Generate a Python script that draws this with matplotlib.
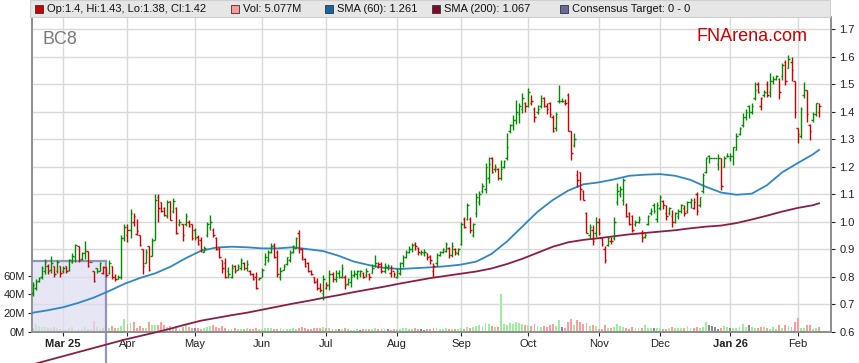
"""
BC8 daily price bars with SMA(60), SMA(200), volume and consensus target box.
"""
import numpy as np
import pandas as pd
import matplotlib
matplotlib.use('Agg')
import matplotlib.pyplot as plt
from matplotlib.collections import LineCollection
from matplotlib.patches import Rectangle

# daily bars, one per weekday from 17 Feb 2025
first_day = '2025-02-17'

opens = [
    .74, .76, .785, .80, .82, .84, .825, .84, .82, .84,  # Feb
    .82, .84, .825, .855, .87, .91, .865, .885, .895, .855, .82, .83, .82, .815, .835, .815, .84, .80, .79, .80, .94,  # Mar
    .95, .97, 1.0, .955, .95, .90, .85, .91, .875, .935, 1.09, 1.07, 1.05, 1.02, 1.075, 1.04, 1.05, .99, .99, .99, 1.0, .99,  # Apr
    .97, .945, .935, .89, .95, .98, .97, .94, .905, .86, .85, .82, .80, .84, .825, .83, .85, .83, .82, .81, .80, .79,  # May
    .80, .845, .86, .89, .915, .89, .80, .825, .845, .86, .89, .905, .96, .90, .865, .85, .82, .80, .785, .76, .74,  # Jun
    .76, .77, .81, .79, .815, .80, .80, .775, .78, .805, .81, .81, .815, .805, .81, .815, .84, .835, .845, .82, .835, .815, .82,  # Jul
    .80, .815, .85, .87, .89, .90, .92, .905, .885, .885, .885, .875, .82, .85, .88, .89, .895, .905, .88, .90, .885,  # Aug
    .92, 1.01, 1.01, 1.01, .95, 1.03, 1.07, 1.11, 1.12, 1.16, 1.23, 1.19, 1.19, 1.16, 1.20, 1.23, 1.33, 1.35, 1.37, 1.39, 1.41, 1.43,  # Sep
    1.42, 1.43, 1.41, 1.40, 1.42, 1.45, 1.42, 1.43, 1.38, 1.34, 1.44, 1.44, 1.43, 1.46, 1.33, 1.28, 1.17, 1.18, 1.11, 1.03, .95, .97, .96,  # Oct
    1.0, .94, .90, .915, .93, .94, 1.07, 1.10, 1.08, 1.06, 1.03, 1.02, .99, 1.0, .96, .945, .99, 1.03, 1.06, 1.01,  # Nov
    1.05, 1.075, 1.03, 1.03, 1.02, 1.0, 1.02, 1.04, 1.05, 1.04, 1.07, 1.05, 1.10, 1.06, 1.11, 1.18, 1.24, 1.23, 1.23, 1.21, 1.23, 1.20, 1.24,  # Dec
    1.23, 1.24, 1.26, 1.32, 1.35, 1.38, 1.42, 1.40, 1.45, 1.50, 1.42, 1.46, 1.50, 1.47, 1.51, 1.52, 1.52, 1.53, 1.58, 1.56, 1.58, 1.51,  # Jan
    1.34, 1.31, 1.46, 1.48, 1.35, 1.37, 1.39, 1.40,  # Feb
]
highs = [
    .78, .79, .80, .84, .865, .845, .875, .84, .86, .84,
    .84, .84, .865, .885, .92, .91, .89, .93, .895, .855, .82, .83, .855, .84, .835, .86, .84, .81, .805, .95, .99,
    .99, 1.045, 1.03, 1.01, .95, .90, .90, .91, .94, 1.10, 1.10, 1.07, 1.055, 1.08, 1.075, 1.085, 1.055, 1.01, .99, 1.03, 1.005, .99,
    .976, .951, .945, .91, 1.0, 1.024, .976, .945, .909, .861, .867, .836, .848, .842, .848, .867, .854, .86, .824, .812, .818, .80,
    .83, .885, .897, .921, .921, .897, .836, .848, .872, .897, .915, .945, .97, .903, .867, .854, .824, .80, .794, .776, .806,
    .78, .824, .818, .824, .824, .848, .806, .794, .824, .824, .825, .824, .818, .83, .812, .848, .879, .855, .855, .85, .848, .842, .818,
    .83, .855, .879, .897, .91, .921, .927, .909, .897, .90, .885, .879, .85, .885, .895, .905, .927, .909, .927, .905, .905,
    1.0, 1.018, 1.067, 1.018, .994, 1.103, 1.11, 1.14, 1.212, 1.236, 1.236, 1.21, 1.194, 1.224, 1.225, 1.321, 1.357, 1.388, 1.442, 1.43, 1.467, 1.436,
    1.485, 1.46, 1.418, 1.425, 1.46, 1.455, 1.43, 1.436, 1.388, 1.40, 1.497, 1.45, 1.445, 1.467, 1.33, 1.321, 1.188, 1.18, 1.115, 1.036, .99, .988, 1.018,
    1.012, .94, .91, .946, .945, 1.018, 1.14, 1.13, 1.158, 1.067, 1.036, 1.024, 1.005, 1.02, .97, .96, 1.024, 1.05, 1.067, 1.073,
    1.097, 1.079, 1.06, 1.055, 1.042, 1.035, 1.045, 1.065, 1.06, 1.075, 1.085, 1.085, 1.109, 1.09, 1.176, 1.236, 1.242, 1.23, 1.23, 1.248, 1.23, 1.24, 1.25,
    1.25, 1.273, 1.321, 1.345, 1.394, 1.41, 1.424, 1.43, 1.509, 1.509, 1.455, 1.48, 1.51, 1.54, 1.53, 1.535, 1.521, 1.576, 1.588, 1.606, 1.60, 1.51,
    1.34, 1.418, 1.509, 1.479, 1.357, 1.40, 1.43, 1.43,
]
lows = [
    .73, .75, .78, .79, .81, .81, .815, .80, .815, .80,
    .815, .815, .82, .85, .855, .855, .86, .865, .835, .855, .78, .815, .82, .81, .80, .81, .79, .785, .79, .79, .93,
    .925, .94, .985, .95, .91, .81, .85, .82, .875, .935, 1.0, 1.035, 1.02, 1.015, 1.005, 1.03, .955, .985, .93, .985, .98, .935,
    .933, .915, .89, .89, .945, .97, .945, .897, .867, .812, .794, .794, .794, .812, .824, .824, .824, .82, .806, .788, .757, .788,
    .80, .842, .854, .885, .867, .80, .788, .824, .842, .854, .885, .903, .885, .86, .836, .818, .806, .776, .751, .745, .715,
    .755, .751, .782, .782, .794, .794, .757, .77, .764, .80, .79, .80, .794, .80, .788, .812, .836, .83, .812, .815, .824, .80, .80,
    .794, .806, .836, .867, .885, .891, .897, .879, .88, .875, .861, .848, .80, .84, .875, .885, .891, .867, .873, .88, .88,
    .915, .976, 1.006, .958, .946, 1.018, 1.06, 1.105, 1.103, 1.14, 1.176, 1.18, 1.152, 1.152, 1.195, 1.224, 1.321, 1.333, 1.357, 1.36, 1.394, 1.40,
    1.418, 1.425, 1.363, 1.39, 1.412, 1.418, 1.39, 1.382, 1.327, 1.33, 1.43, 1.435, 1.425, 1.33, 1.224, 1.273, 1.127, 1.079, 1.079, .958, .94, .915, .946,
    .952, .91, .849, .91, .92, .934, 1.06, 1.09, 1.06, 1.018, .988, .964, .985, .995, .927, .94, .988, 1.025, 1.03, 1.0,
    1.043, 1.048, 1.006, 1.025, .982, .995, 1.01, 1.03, 1.02, 1.03, 1.05, 1.045, 1.024, 1.055, 1.103, 1.176, 1.212, 1.23, 1.23, 1.188, 1.115, 1.20, 1.235,
    1.22, 1.206, 1.26, 1.315, 1.345, 1.37, 1.376, 1.39, 1.442, 1.467, 1.406, 1.455, 1.455, 1.455, 1.50, 1.515, 1.448, 1.515, 1.497, 1.558, 1.51, 1.376,
    1.285, 1.303, 1.449, 1.363, 1.297, 1.363, 1.385, 1.38,
]
closes = [
    .77, .78, .795, .83, .855, .82, .85, .81, .855, .815,
    .83, .82, .86, .875, .915, .86, .885, .895, .84, .855, .785, .82, .85, .835, .805, .85, .80, .79, .80, .94, .98,
    .97, 1.03, 1.02, .965, .915, .84, .89, .825, .93, 1.08, 1.05, 1.04, 1.025, 1.07, 1.005, 1.075, .96, 1.0, .95, 1.02, .985, .94,
    .94, .92, .90, .905, .99, 1.0, .95, .90, .87, .83, .80, .81, .83, .82, .84, .86, .83, .845, .81, .79, .76, .795,
    .825, .87, .89, .91, .87, .81, .82, .84, .87, .885, .91, .94, .90, .87, .84, .82, .81, .78, .76, .75, .79,
    .77, .81, .79, .80, .80, .83, .77, .79, .80, .815, .82, .82, .80, .82, .80, .83, .85, .845, .82, .84, .84, .83, .81,
    .82, .85, .87, .89, .90, .915, .91, .89, .89, .89, .87, .86, .84, .88, .89, .90, .92, .88, .91, .89, .90,
    .99, .98, 1.06, .97, .99, 1.09, 1.10, 1.13, 1.20, 1.21, 1.18, 1.20, 1.16, 1.19, 1.22, 1.27, 1.35, 1.37, 1.40, 1.42, 1.45, 1.42,
    1.47, 1.44, 1.38, 1.41, 1.44, 1.42, 1.41, 1.39, 1.33, 1.39, 1.44, 1.44, 1.43, 1.33, 1.25, 1.30, 1.15, 1.12, 1.08, .96, .98, .93, 1.0,
    .96, .92, .86, .94, .93, 1.0, 1.11, 1.12, 1.15, 1.02, .99, .97, 1.0, 1.01, .94, .95, 1.02, 1.04, 1.04, 1.06,
    1.09, 1.06, 1.02, 1.05, 1.0, 1.03, 1.04, 1.06, 1.03, 1.07, 1.08, 1.07, 1.04, 1.09, 1.17, 1.23, 1.23, 1.23, 1.23, 1.23, 1.13, 1.23, 1.24,
    1.24, 1.27, 1.31, 1.34, 1.38, 1.40, 1.40, 1.42, 1.48, 1.47, 1.45, 1.47, 1.46, 1.51, 1.52, 1.53, 1.47, 1.57, 1.51, 1.59, 1.55, 1.40,
    1.32, 1.41, 1.48, 1.39, 1.33, 1.39, 1.43, 1.42,
]
# volume in millions of shares
volumes = [
    3.6, 7.9, 6, 5, 4.6, 4.3, 4.3, 5, 3.6, 2.9,
    2.9, 2.1, 3.6, 5.4, 2.1, 2.9, 2.9, 5.4, 2.5, 2.5, 11.8, 5, 2.9, 3.6, 3.6, 4.3, 6.4, 4.3, 4.3, 6.4, 13.6,
    8.6, 9.3, 10, 3.6, 5.7, 3.6, 4.3, 10.7, 7.1, 7.1, 7.1, 10, 7.1, 5, 5.7, 3.6, 5.7, 3, 4.5, 7, 5, 3.5,
    3.5, 4, 3, 3.5, 5, 6, 7, 5, 4, 6, 4, 3, 3, 3.5, 3, 2.5, 3, 3.5, 2.5, 3, 4, 3,
    3, 3.5, 3.5, 4, 3, 2.5, 3.5, 2.5, 3, 3, 3.5, 3, 4, 5, 3.5, 3, 3, 3.5, 4, 4, 5,
    3.5, 4, 3, 3, 2.5, 3, 3.5, 2.5, 2, 2, 2.5, 2, 2.5, 2.5, 3, 3, 3.5, 3, 3, 2.5, 2.5, 2, 2.5,
    2.5, 3, 3.5, 3.5, 3, 3, 3.5, 2.5, 2.5, 2, 2.5, 3, 4, 3.5, 3, 3, 3.5, 3, 3, 3, 3,
    4, 3, 5, 4, 5, 6, 7, 6, 9, 8, 6, 5, 5, 40, 8, 7, 9, 8, 10, 9, 8, 7,
    7, 6, 8, 6, 5, 6, 5, 7, 8, 6, 12, 5, 4, 10, 14, 7, 12, 10, 8, 9, 6, 7, 6,
    2.9, 2.9, 7, 3.6, 4.3, 5.4, 7.8, 6.4, 5.4, 3.6, 2.9, 5.4, 3.6, 3.6, 3.6, 7, 4.3, 3.6, 3.6, 3.6,
    4.3, 2.9, 2.9, 3.6, 5.4, 4.3, 3.6, 3.6, 4.3, 6.4, 3.6, 4.3, 5.4, 3.6, 5.4, 10, 7, 6.4, 5.4, 3, 3.6, 6.4, 5.4,
    3.6, 3.6, 4.3, 5.4, 7.8, 5, 7, 5.4, 3.6, 4.3, 5.4, 5.4, 4.3, 2.9, 5.4, 2.9, 7, 3.6, 7, 6.4, 5.4, 10.7,
    14.3, 3.6, 3.6, 7, 7, 2.9, 3.6, 5.077,
]

# moving averages read every 5th bar (plus the last bar)
sma60 = [.669, .678, .689, .705, .724, .748, .774, .795, .812, .836, .867, .894, .906, .909, .907,
         .903, .903, .907, .900, .893, .876, .855, .842, .832, .828, .831, .834, .838, .844, .855,
         .883, .928, .982, 1.036, 1.079, 1.113, 1.136, 1.143, 1.154, 1.167, 1.171, 1.173, 1.167,
         1.152, 1.127, 1.106, 1.098, 1.102, 1.133, 1.180, 1.213, 1.245, 1.261]
sma200 = [.481, .496, .511, .526, .541, .556, .571, .584, .597, .611, .626, .640, .650, .660, .669,
          .680, .691, .702, .712, .723, .733, .744, .754, .764, .775, .785, .795, .803, .811, .819,
          .830, .846, .865, .887, .909, .925, .934, .940, .947, .954, .959, .964, .969, .976, .982,
          .986, .995, 1.008, 1.022, 1.037, 1.050, 1.060, 1.067]

target_end = '2025-03-21'
target_level = 0.858

month_labels = ['Mar 25', 'Apr', 'May', 'Jun', 'Jul', 'Aug', 'Sep', 'Oct', 'Nov', 'Dec', 'Jan 26', 'Feb']
price_ticks = [0.6, 0.7, 0.8, 0.9, 1.0, 1.1, 1.2, 1.3, 1.4, 1.5, 1.6, 1.7]
vol_ticks = [0, 20, 40, 60]

legend_items = [
    ('Op:1.4, Hi:1.43, Lo:1.38, Cl:1.42', '#cc0000', 35),
    ('Vol: 5.077M', '#ff9999', 231),
    ('SMA (60): 1.261', '#1565a8', 325),
    ('SMA (200): 1.067', '#7d0a2a', 432),
    ('Consensus Target: 0 - 0', '#6a6a9a', 560),
]

UP = '#008a00'
DOWN = '#d00000'
VOL_UP = '#9cf09c'
VOL_DOWN = '#ff9c9c'
VOL_FLAT = '#8a8a8a'
GRID = '#d9d9d9'
SPINE = '#8c8c8c'

W, H = 859, 363


def px_box(x0, y0, x1, y1):
    """figure rect from pixel corners (top-left origin)"""
    return [x0 / W, 1 - y1 / H, (x1 - x0) / W, (y1 - y0) / H]


def main():
    n = len(closes)
    assert len(opens) == len(highs) == len(lows) == len(volumes) == n
    dates = pd.bdate_range(first_day, periods=n)
    x = np.arange(n)

    o = np.array(opens)
    h = np.array(highs)
    lo = np.array(lows)
    c = np.array(closes)
    v = np.array(volumes)

    prev = np.r_[c[0], c[:-1]]
    up = c >= prev
    bar_colors = np.where(up, UP, DOWN)
    vol_colors = np.where(c > prev, VOL_UP, np.where(c < prev, VOL_DOWN, VOL_FLAT))

    plt.rcParams['font.family'] = ['Liberation Sans', 'DejaVu Sans']

    fig = plt.figure(figsize=(W / 100, H / 100), dpi=100)
    vax = fig.add_axes(px_box(32, 17, 831, 331.7))
    ax = vax.twinx()

    # volume (left axis), month grid on the host axes
    vax.set_axisbelow(True)
    vax.grid(True, axis='x', color=GRID, linewidth=1.0)
    vax.bar(x, v, width=0.62, color=vol_colors, linewidth=0, zorder=2)
    vax.set_ylim(0, 336.6)
    vax.set_xlim(-0.2, 260.9)
    vax.set_yticks(vol_ticks)
    vax.set_yticklabels(['{}M'.format(t) for t in vol_ticks])

    month_start = [i for i in range(1, n) if dates[i].month != dates[i - 1].month]
    vax.set_xticks(month_start)
    vax.set_xticklabels(month_labels)
    for lbl in vax.get_xticklabels():
        if ' ' in lbl.get_text():
            lbl.set_fontweight('bold')

    # price (right axis)
    ax.set_ylim(0.6, 0.6 + 314.7 / 275)
    ax.set_axisbelow(True)
    ax.grid(True, axis='y', color=GRID, linewidth=1.0)
    ax.set_yticks(price_ticks)
    ax.set_yticklabels(['{:.1f}'.format(t) for t in price_ticks])

    # consensus target box
    t_end = dates.get_loc(pd.Timestamp(target_end))
    ax.add_patch(Rectangle((x[0] - 0.2, 0.6), t_end - x[0] + 0.2, target_level - 0.6,
                           facecolor='#dcdcf2', alpha=0.7, edgecolor='none', zorder=1))
    ax.plot([x[0] - 0.2, t_end], [target_level, target_level], color='#9494bc', lw=1.6, zorder=2)
    ax.plot([t_end, t_end], [target_level, 0.45], color='#9494bc', lw=1.6, zorder=2, clip_on=False)

    # moving averages
    sma_x = list(range(0, n, 5))
    if sma_x[-1] != n - 1:
        sma_x.append(n - 1)
    ax.plot(sma_x, sma60, color='#2f86c8', lw=1.3, zorder=3)
    ax.plot(sma_x, sma200, color='#8a1e46', lw=1.3, zorder=3, clip_on=False)

    # OHLC bars
    tick = 0.5
    segs = []
    cols = []
    for i in range(n):
        segs.append([(x[i], lo[i]), (x[i], h[i])])
        segs.append([(x[i] - tick, o[i]), (x[i], o[i])])
        segs.append([(x[i], c[i]), (x[i] + tick, c[i])])
        cols += [bar_colors[i]] * 3
    ax.add_collection(LineCollection(segs, colors=cols, linewidths=1.0, zorder=4))

    for a in (ax, vax):
        a.tick_params(labelsize=8, colors='#222222', length=3, width=0.8)
        for s in a.spines.values():
            s.set_color(SPINE)
            s.set_linewidth(1.2)
        a.spines['top'].set_visible(False)
    vax.tick_params(axis='x', length=3, pad=2)
    ax.tick_params(axis='y', pad=3)
    vax.tick_params(axis='y', pad=2)

    # header band
    fig.add_artist(Rectangle((30 / W, 1 - 17 / H), 800 / W, 17 / H, transform=fig.transFigure,
                             facecolor='#e6e6e6', edgecolor='#cfcfcf', linewidth=0.8))
    for label, color, xp in legend_items:
        fig.add_artist(Rectangle((xp / W, 1 - 13 / H), 8 / W, 8 / H, transform=fig.transFigure,
                                 facecolor=color, edgecolor='#333333', linewidth=0.6))
        fig.text((xp + 12) / W, 1 - 9 / H, label, fontsize=8, color='#111111', va='center')

    fig.text(42 / W, 1 - 43.5 / H, 'BC8', fontsize=13, color='#7a7a7a', va='baseline')
    fig.text(808 / W, 1 - 41 / H, 'FNArena.com', fontsize=13, color='#cc0000', va='baseline', ha='right')

    fig.savefig('out.png', dpi=100)


if __name__ == '__main__':
    main()
